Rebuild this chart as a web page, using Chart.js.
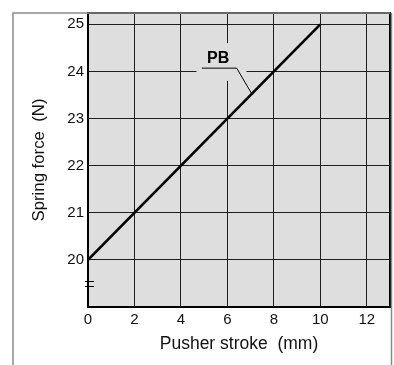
<!DOCTYPE html>
<html>
<head>
<meta charset="utf-8">
<script src="https://cdn.jsdelivr.net/npm/chart.js@4.4.1/dist/chart.umd.min.js"></script>
<style>
  html, body { margin: 0; padding: 0; background: #ffffff; }
  canvas { display: block; }
</style>
</head>
<body>
<canvas id="c" width="394" height="365" style="width:394px;height:365px"></canvas>
<script>
// Spring force vs. pusher stroke for the PB spring
const strokeMm = [0, 10];
const springForceN = [20, 25];
const xTickValues = [0, 2, 4, 6, 8, 10, 12];
const yTickValues = [20, 21, 22, 23, 24, 25];
const seriesName = 'PB';

const FONT = '"Liberation Sans", Arial, Helvetica, sans-serif';
const PLOT_BG = '#dedede';
const GRID = '#1e1e1e';
const FRAME = '#8a8a8a';

const points = strokeMm.map((x, i) => ({ x, y: springForceN[i] }));

const decor = {
  id: 'decor',
  beforeDraw(chart) {
    const { ctx, chartArea: a } = chart;
    ctx.save();
    ctx.fillStyle = PLOT_BG;
    ctx.fillRect(a.left, a.top, a.right - a.left, a.bottom - a.top);
    ctx.restore();
  },
  beforeDatasetsDraw(chart) {
    // clear the grid behind the series label
    const { ctx, scales: { x, y } } = chart;
    const l = x.getPixelForValue(4.67), r = x.getPixelForValue(6.82);
    const t = y.getPixelForValue(24.6), b = y.getPixelForValue(23.8);
    ctx.save();
    ctx.fillStyle = PLOT_BG;
    ctx.fillRect(l, t, r - l, b - t);
    ctx.restore();
  },
  afterDatasetsDraw(chart) {
    const { ctx, chartArea: a, scales: { x, y } } = chart;
    ctx.save();
    // leader line from the label to the series
    ctx.strokeStyle = '#000';
    ctx.lineWidth = 1;
    ctx.beginPath();
    ctx.moveTo(x.getPixelForValue(4.9), y.getPixelForValue(24.07));
    ctx.lineTo(x.getPixelForValue(6.4), y.getPixelForValue(24.07));
    ctx.lineTo(x.getPixelForValue(7.05), y.getPixelForValue(20 + 7.05 * 0.5));
    ctx.stroke();
    // series label
    ctx.fillStyle = '#000';
    ctx.font = 'bold 16px ' + FONT;
    ctx.textAlign = 'center';
    ctx.textBaseline = 'middle';
    ctx.fillText(seriesName, x.getPixelForValue(5.6), y.getPixelForValue(24.27));
    // top and right borders of the plot
    ctx.lineWidth = 2;
    ctx.beginPath();
    ctx.moveTo(a.left, a.top);
    ctx.lineTo(a.right, a.top);
    ctx.lineTo(a.right, a.bottom);
    ctx.stroke();
    // axis break mark on the force axis
    ctx.lineWidth = 1.2;
    ctx.beginPath();
    [19.55, 19.45].forEach(v => {
      const py = Math.round(y.getPixelForValue(v)) + 0.5;
      ctx.moveTo(a.left - 3, py);
      ctx.lineTo(a.left + 6, py);
    });
    ctx.stroke();
    // outer frame
    ctx.strokeStyle = FRAME;
    ctx.lineWidth = 1.5;
    ctx.beginPath();
    ctx.moveTo(13, chart.height);
    ctx.lineTo(13, a.top);
    ctx.lineTo(a.right, a.top);
    ctx.moveTo(a.right + 1.5, a.top);
    ctx.lineTo(a.right + 1.5, chart.height);
    ctx.stroke();
    ctx.restore();
  }
};

new Chart(document.getElementById('c'), {
  type: 'line',
  data: {
    datasets: [{
      label: seriesName,
      data: points,
      borderColor: '#000',
      borderWidth: 2.6,
      pointRadius: 0,
      fill: false,
      tension: 0
    }]
  },
  options: {
    responsive: false,
    devicePixelRatio: 1,
    animation: false,
    layout: { padding: { left: 13, right: 4, top: 5, bottom: 0 } },
    plugins: { legend: { display: false }, tooltip: { enabled: false } },
    scales: {
      x: {
        type: 'linear',
        min: 0,
        max: 13,
        afterBuildTicks: s => { s.ticks = xTickValues.map(v => ({ value: v })); },
        afterFit: s => { s.height = 58; },
        grid: { color: GRID, lineWidth: 1, drawTicks: false },
        border: { color: '#000', width: 2 },
        ticks: { color: '#111', padding: 4, maxRotation: 0, font: { family: FONT, size: 15 } },
        title: {
          display: true,
          text: 'Pusher stroke  (mm)',
          color: '#111',
          font: { family: FONT, size: 17.5 },
          padding: { top: 0, bottom: 10 }
        }
      },
      y: {
        type: 'linear',
        min: 19,
        max: 25.24,
        afterBuildTicks: s => { s.ticks = yTickValues.map(v => ({ value: v })); },
        afterFit: s => { s.width = 75; },
        grid: { color: GRID, lineWidth: 1, drawTicks: false },
        border: { color: '#000', width: 2 },
        ticks: { color: '#111', padding: 4, font: { family: FONT, size: 15 } },
        title: {
          display: true,
          text: 'Spring force  (N)',
          color: '#111',
          font: { family: FONT, size: 16.8 },
          padding: { top: 16, bottom: 0 }
        }
      }
    }
  },
  plugins: [decor]
});
</script>
</body>
</html>
